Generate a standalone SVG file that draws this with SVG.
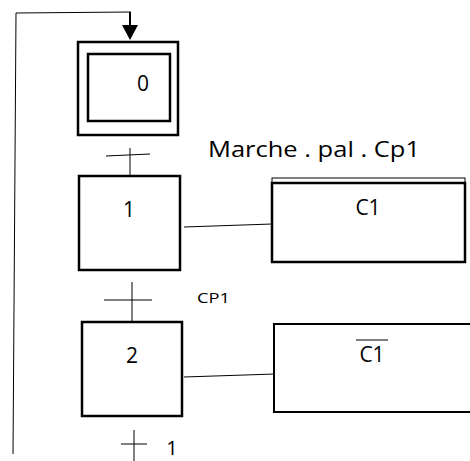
<svg xmlns="http://www.w3.org/2000/svg" width="470" height="461" viewBox="0 0 470 461">
<style>
.box{fill:#fff;stroke:#000;stroke-width:2.5}
.thin{fill:none;stroke:#000;stroke-width:1}
.t{font-family:"Open Sans","Liberation Sans",Arial,sans-serif;font-size:21px;fill:#000;text-anchor:middle}
.s{font-family:"Open Sans","Liberation Sans",Arial,sans-serif;font-size:14px;fill:#000}
</style>
<rect width="470" height="461" fill="#fff"/>
<g id="connectors">
<polyline class="thin" points="13,454 16,13 131,12"/>
<line x1="130" y1="12" x2="130" y2="27" stroke="#000" stroke-width="2"/>
<polygon points="122,25 138,25 130,40" fill="#000"/>
<line class="thin" x1="130" y1="148" x2="130" y2="177"/>
<line class="thin" x1="106" y1="156" x2="150" y2="154"/>
<line class="thin" x1="132" y1="282" x2="132" y2="322"/>
<line class="thin" x1="104" y1="300" x2="152" y2="300"/>
<line class="thin" x1="134" y1="430" x2="134" y2="461"/>
<line class="thin" x1="121" y1="444" x2="147" y2="444"/>
<line class="thin" x1="184" y1="227" x2="272" y2="224"/>
<line class="thin" x1="184" y1="377" x2="275" y2="374"/>
</g>
<g id="step0">
<rect class="box" x="78" y="42" width="100" height="93"/>
<rect class="box" x="88" y="54" width="82" height="67"/>
<text class="t" x="143" y="91">0</text>
</g>
<g id="step1">
<rect class="box" x="79" y="176" width="101" height="94"/>
<text class="t" x="129" y="217">1</text>
</g>
<g id="step2">
<rect class="box" x="82" y="322" width="100" height="94"/>
<text class="t" x="132" y="363">2</text>
</g>
<g id="action1">
<rect x="272" y="178" width="193" height="84" fill="#fff" stroke="#000" stroke-width="1"/>
<rect class="box" x="272" y="183" width="193" height="79" stroke-width="2"/>
<text class="t" x="368" y="215">C1</text>
</g>
<g id="action2">
<path d="M472,324 H274 V412 H472" fill="#fff" stroke="#000" stroke-width="2"/>
<text class="t" x="372" y="362">C1</text>
<line class="thin" x1="356" y1="340" x2="388" y2="340"/>
</g>
<g id="labels">
<text class="t" x="314" y="157" textLength="212" lengthAdjust="spacingAndGlyphs">Marche . pal . Cp1</text>
<text class="s" x="197" y="303" textLength="33" lengthAdjust="spacingAndGlyphs">CP1</text>
<text class="t" x="172" y="455" style="font-size:20px">1</text>
</g>
</svg>
